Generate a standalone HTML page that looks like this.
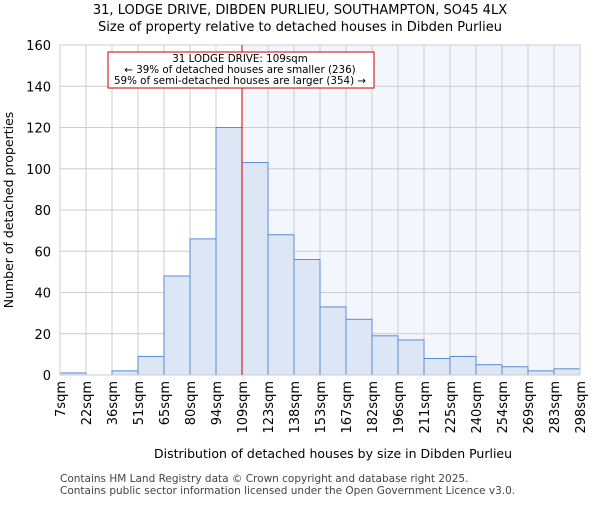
<!DOCTYPE html>
<html><head><meta charset="utf-8"><style>body{margin:0;background:#fff}svg{font-family:"DejaVu Sans","Liberation Sans",sans-serif}</style></head>
<body>
<svg id="chart" width="600" height="500" xmlns="http://www.w3.org/2000/svg">
<text x="300" y="14" text-anchor="middle" font-size="13">31, LODGE DRIVE, DIBDEN PURLIEU, SOUTHAMPTON, SO45 4LX</text>
<text x="300" y="31" text-anchor="middle" font-size="13">Size of property relative to detached houses in Dibden Purlieu</text>
<g id="plot"></g>
<text x="333" y="458" text-anchor="middle" font-size="12.5">Distribution of detached houses by size in Dibden Purlieu</text>
<text transform="translate(13,210) rotate(-90)" text-anchor="middle" font-size="12.5">Number of detached properties</text>
<text x="60" y="482" font-size="10.5" fill="#444">Contains HM Land Registry data © Crown copyright and database right 2025.</text>
<text x="60" y="494" font-size="10.5" fill="#444">Contains public sector information licensed under the Open Government Licence v3.0.</text>
</svg>
<script>
const binLabels=["7sqm","22sqm","36sqm","51sqm","65sqm","80sqm","94sqm","109sqm","123sqm","138sqm","153sqm","167sqm","182sqm","196sqm","211sqm","225sqm","240sqm","254sqm","269sqm","283sqm","298sqm"];
const counts=[1,0,2,9,48,66,120,103,68,56,33,27,19,17,8,9,5,4,2,3];
const yTicks=[0,20,40,60,80,100,120,140,160];
const markerIndex=7;
const NS="http://www.w3.org/2000/svg";
const L=60,R=580,T=45,B=375,yMax=160;
const bw=(R-L)/counts.length;
const xs=i=>L+i*bw;
const ys=v=>B-(v/yMax)*(B-T);
const g=document.getElementById('plot');
function mk(tag,attrs,txt){const e=document.createElementNS(NS,tag);for(const k in attrs)e.setAttribute(k,attrs[k]);if(txt!==undefined)e.textContent=txt;g.appendChild(e);return e;}
let e=mk('rect',{x:xs(markerIndex),y:T,width:R-xs(markerIndex),height:B-T,fill:'#f3f6fd'});


yTicks.forEach(t=>{let l=mk('line',{x1:L,x2:R,y1:ys(t),y2:ys(t),stroke:'#ccc','stroke-width':1});


let tx=mk('text',{x:L-9,y:ys(t)+5,'text-anchor':'end','font-size':13},t);

});
binLabels.forEach((b,i)=>{let l=mk('line',{x1:xs(i),x2:xs(i),y1:T,y2:B,stroke:'#ccc','stroke-width':1});


let tx=mk('text',{transform:`translate(${xs(i)+5},${B+6}) rotate(-90)`,'text-anchor':'end','font-size':13},b);

});
counts.forEach((v,i)=>{let r=mk('rect',{x:xs(i),y:ys(v),width:bw,height:B-ys(v),fill:'#dce6f5',stroke:'#5b8bd6','stroke-width':1});

});
e=mk('rect',{x:L,y:T,width:R-L,height:B-T,fill:'none',stroke:'#ccc'});


e=mk('line',{x1:xs(markerIndex),x2:xs(markerIndex),y1:T,y2:B,stroke:'#cc0000','stroke-width':1});


e=mk('rect',{x:108,y:52,width:266,height:36,fill:'#fff',stroke:'#cc0000','stroke-width':1});


["31 LODGE DRIVE: 109sqm","← 39% of detached houses are smaller (236)","59% of semi-detached houses are larger (354) →"].forEach((s,i)=>{let t=mk('text',{x:240,y:62+i*11,'text-anchor':'middle','font-size':10.3},s);

});
</script>
</body></html>
